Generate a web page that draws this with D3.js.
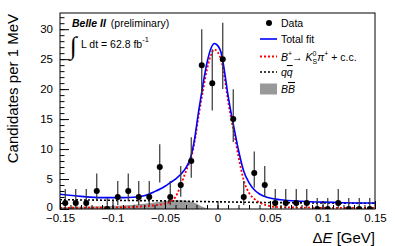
<!DOCTYPE html>
<html>
<head>
<meta charset="utf-8">
<script src="https://cdn.jsdelivr.net/npm/d3@7"></script>
<style>
  body { margin: 0; background: #fff; }
  svg { display: block; font-family: "Liberation Sans", Arial, sans-serif; }
</style>
</head>
<body>
<svg id="chart" width="395" height="246"></svg>
<script>
// bin centres (GeV) and counts
const binCentres = [-0.145, -0.135, -0.125, -0.115, -0.105, -0.095, -0.085, -0.075, -0.065, -0.055,
  -0.045, -0.035, -0.025, -0.015, -0.005, 0.005, 0.015, 0.025, 0.035, 0.045,
  0.055, 0.065, 0.075, 0.085, 0.095, 0.105, 0.115, 0.125, 0.135, 0.145];
const counts = [1, 1, 1, 3, 0, 2, 3, 2, 2, 7,
  2, 4, 8, 24, 21, 25, 15, 2, 6, 4,
  1, 1, 1, 1, 0, 0, 1, 0, 0, 0];

// fitted curves, sampled by eye
const totalFit = [[-0.15, 2.45], [-0.13, 2.1], [-0.11, 1.9], [-0.09, 1.9], [-0.08, 1.95], [-0.07, 2.2],
  [-0.06, 2.9], [-0.05, 3.8], [-0.045, 4.4], [-0.04, 5.0], [-0.035, 5.8], [-0.03, 6.9], [-0.026, 8.4],
  [-0.022, 11.5], [-0.018, 16.3], [-0.014, 20.6], [-0.01, 24.4], [-0.006, 26.9], [-0.003, 27.6],
  [0.0, 27.3], [0.004, 25.7], [0.007, 22.6], [0.01, 19.0], [0.013, 16.0], [0.016, 13.3], [0.02, 9.8],
  [0.025, 6.3], [0.03, 4.4], [0.035, 3.2], [0.04, 2.5], [0.048, 1.9], [0.06, 1.55], [0.08, 1.3],
  [0.1, 1.15], [0.12, 1.05], [0.15, 1.0]];
const signal = [[-0.15, 0.2], [-0.1, 0.25], [-0.08, 0.35], [-0.07, 0.45], [-0.06, 0.6], [-0.05, 0.9],
  [-0.045, 1.2], [-0.04, 2.0], [-0.036, 3.5], [-0.032, 5.4], [-0.028, 7.2], [-0.025, 8.6], [-0.022, 11.0],
  [-0.018, 15.5], [-0.014, 19.6], [-0.01, 23.3], [-0.006, 25.8], [-0.003, 26.6], [0.0, 26.2],
  [0.004, 24.5], [0.007, 21.6], [0.01, 18.1], [0.013, 15.1], [0.016, 12.5], [0.02, 8.7], [0.025, 4.8],
  [0.03, 2.7], [0.035, 1.7], [0.04, 1.1], [0.048, 0.55], [0.06, 0.3], [0.1, 0.2], [0.15, 0.18]];
const qqbar = [[-0.15, 1.55], [-0.1, 1.45], [-0.05, 1.35], [0.0, 1.2], [0.05, 1.08], [0.1, 1.0], [0.15, 0.95]];
const bbbar = [[-0.15, 0.3], [-0.12, 0.4], [-0.1, 0.5], [-0.08, 0.7], [-0.06, 1.1], [-0.05, 1.35],
  [-0.04, 1.5], [-0.03, 1.4], [-0.02, 0.9], [-0.015, 0.4], [-0.01, 0.1], [0.0, 0.0], [0.15, 0.0]];

const xTicks = [-0.15, -0.1, -0.05, 0, 0.05, 0.1, 0.15];
const yTicks = [0, 5, 10, 15, 20, 25, 30];

const W = 395, H = 246;
const m = { left: 60, right: 20, top: 13, bottom: 37 };
const svg = d3.select("#chart");

const x = d3.scaleLinear().domain([-0.15, 0.15]).range([m.left, W - m.right]);
const y = d3.scaleLinear().domain([0, 32.7]).range([H - m.bottom, m.top]);

// poisson (garwood-ish) error bars
const errUp = (n) => (n === 0 ? 1.84 : Math.sqrt(n + 0.75) + 1);
const errDn = (n) => (n === 0 ? 0 : Math.sqrt(n - 0.25));

svg.append("clipPath").attr("id", "plotClip").append("rect")
  .attr("x", m.left).attr("y", m.top).attr("width", W - m.left - m.right).attr("height", H - m.top - m.bottom);

const plot = svg.append("g").attr("clip-path", "url(#plotClip)");

plot.append("path")
  .datum(bbbar)
  .attr("fill", "#999")
  .attr("d", d3.area().x((d) => x(d[0])).y0(y(0)).y1((d) => y(d[1])).curve(d3.curveMonotoneX));

const line = d3.line().x((d) => x(d[0])).y((d) => y(d[1])).curve(d3.curveMonotoneX);

plot.append("path").datum(qqbar).attr("fill", "none").attr("stroke", "#000")
  .attr("stroke-width", 1.6).attr("stroke-dasharray", "2,2").attr("d", line);
plot.append("path").datum(signal).attr("fill", "none").attr("stroke", "#f00")
  .attr("stroke-width", 1.8).attr("stroke-dasharray", "2,2").attr("d", line);
plot.append("path").datum(totalFit).attr("fill", "none").attr("stroke", "#00f")
  .attr("stroke-width", 1.6).attr("d", line);

const pts = binCentres.map((c, i) => ({ c, n: counts[i] }));
plot.selectAll(".err").data(pts).join("line").attr("class", "err")
  .attr("x1", (d) => x(d.c)).attr("x2", (d) => x(d.c))
  .attr("y1", (d) => y(d.n - errDn(d.n))).attr("y2", (d) => y(d.n + errUp(d.n)))
  .attr("stroke", "#333").attr("stroke-width", 1.2);
plot.selectAll(".pt").data(pts).join("circle").attr("class", "pt")
  .attr("cx", (d) => x(d.c)).attr("cy", (d) => y(d.n)).attr("r", 3).attr("fill", "#000");

// axes, ROOT style: ticks inside the frame
const xAxis = svg.append("g").attr("transform", `translate(0,${H - m.bottom})`)
  .call(d3.axisBottom(x).tickValues(xTicks).tickSize(-8).tickPadding(5)
    .tickFormat((d) => (d === 0 ? "0" : d3.format("")(d).replace("-", "\u2212"))));
svg.append("g").attr("transform", `translate(0,${H - m.bottom})`)
  .call(d3.axisBottom(x).tickValues(d3.range(-0.15, 0.1501, 0.01)).tickSize(-4).tickFormat(""))
  .call((g) => g.select(".domain").remove());
const yAxis = svg.append("g").attr("transform", `translate(${m.left},0)`)
  .call(d3.axisLeft(y).tickValues(yTicks).tickSize(-9).tickPadding(7));
svg.append("g").attr("transform", `translate(${m.left},0)`)
  .call(d3.axisLeft(y).tickValues(d3.range(0, 33, 1)).tickSize(-4.5).tickFormat(""))
  .call((g) => g.select(".domain").remove());

svg.selectAll(".tick line").attr("stroke", "#000");
xAxis.selectAll("text").attr("font-size", 11.5).attr("fill", "#000");
yAxis.selectAll("text").attr("font-size", 11.5).attr("fill", "#000");
yAxis.selectAll(".tick").filter((d) => d === 0).select("text").attr("dy", "0.1em");
svg.selectAll(".domain").remove();

svg.append("rect").attr("x", m.left).attr("y", m.top)
  .attr("width", W - m.left - m.right).attr("height", H - m.top - m.bottom)
  .attr("fill", "none").attr("stroke", "#000").attr("stroke-width", 1);

// titles
svg.append("text").attr("transform", `translate(18,${m.top + 1}) rotate(-90)`)
  .attr("text-anchor", "end").attr("font-size", 15).text("Candidates per 1 MeV");
const xt = svg.append("text").attr("x", W - m.right).attr("y", 243).attr("text-anchor", "end").attr("font-size", 15);
xt.append("tspan").text("\u0394");
xt.append("tspan").attr("font-style", "italic").text("E");
xt.append("tspan").text(" [GeV]");

// experiment label
const lab = svg.append("text").attr("x", 72).attr("y", 27).attr("font-size", 10.5);
lab.append("tspan").attr("font-weight", "bold").attr("font-style", "italic").text("Belle II");
lab.append("tspan").attr("dx", 5).text("(preliminary)");
svg.append("text").attr("x", 70).attr("y", 54).attr("font-size", 25).attr("font-family", "DejaVu Sans")
  .attr("font-weight", 300).text("\u222B");
const lumi = svg.append("text").attr("x", 81).attr("y", 48).attr("font-size", 10.5);
lumi.append("tspan").text("L dt = 62.8 fb");
lumi.append("tspan").attr("dy", -6).attr("font-size", 7.5).text("-1");

// legend
const lg = svg.append("g").attr("font-size", 10.5);
const lx1 = 260, lx2 = 277, tx = 281;
const rows = [23, 39, 56.5, 72, 89];
lg.append("circle").attr("cx", (lx1 + lx2) / 2 + 0.5).attr("cy", rows[0]).attr("r", 3).attr("fill", "#000");
lg.append("text").attr("x", tx).attr("y", rows[0] + 4).text("Data");
lg.append("line").attr("x1", lx1).attr("x2", lx2).attr("y1", rows[1]).attr("y2", rows[1])
  .attr("stroke", "#00f").attr("stroke-width", 1.6);
lg.append("text").attr("x", tx).attr("y", rows[1] + 4).text("Total fit");
lg.append("line").attr("x1", lx1).attr("x2", lx2).attr("y1", rows[2]).attr("y2", rows[2])
  .attr("stroke", "#f00").attr("stroke-width", 1.8).attr("stroke-dasharray", "2,2");
const st = lg.append("text").attr("x", tx).attr("y", rows[2] + 4);
st.append("tspan").attr("font-style", "italic").text("B");
st.append("tspan").attr("dy", -5).attr("font-size", 7).text("+");
st.append("tspan").attr("dy", 5).text("\u2192 ");
st.append("tspan").attr("font-style", "italic").text("K");
st.append("tspan").attr("dy", -5).attr("font-size", 7).text("0");
st.append("tspan").attr("dx", -4).attr("dy", 8).attr("font-size", 7).text("S");
st.append("tspan").attr("dy", -3).attr("font-style", "italic").text("\u03C0");
st.append("tspan").attr("dy", -5).attr("font-size", 7).text("+");
st.append("tspan").attr("dy", 5).text(" + c.c.");
lg.append("line").attr("x1", lx1).attr("x2", lx2).attr("y1", rows[3]).attr("y2", rows[3])
  .attr("stroke", "#000").attr("stroke-width", 1.6).attr("stroke-dasharray", "2,2");
const qt = lg.append("text").attr("x", tx).attr("y", rows[3] + 4).attr("font-style", "italic");
qt.append("tspan").text("q");
qt.append("tspan").attr("text-decoration", "overline").text("q");
lg.append("rect").attr("x", lx1).attr("y", rows[4] - 5.5).attr("width", lx2 - lx1).attr("height", 11).attr("fill", "#999");
const bt = lg.append("text").attr("x", tx).attr("y", rows[4] + 4).attr("font-style", "italic");
bt.append("tspan").text("B");
bt.append("tspan").attr("text-decoration", "overline").text("B");
</script>
</body>
</html>
